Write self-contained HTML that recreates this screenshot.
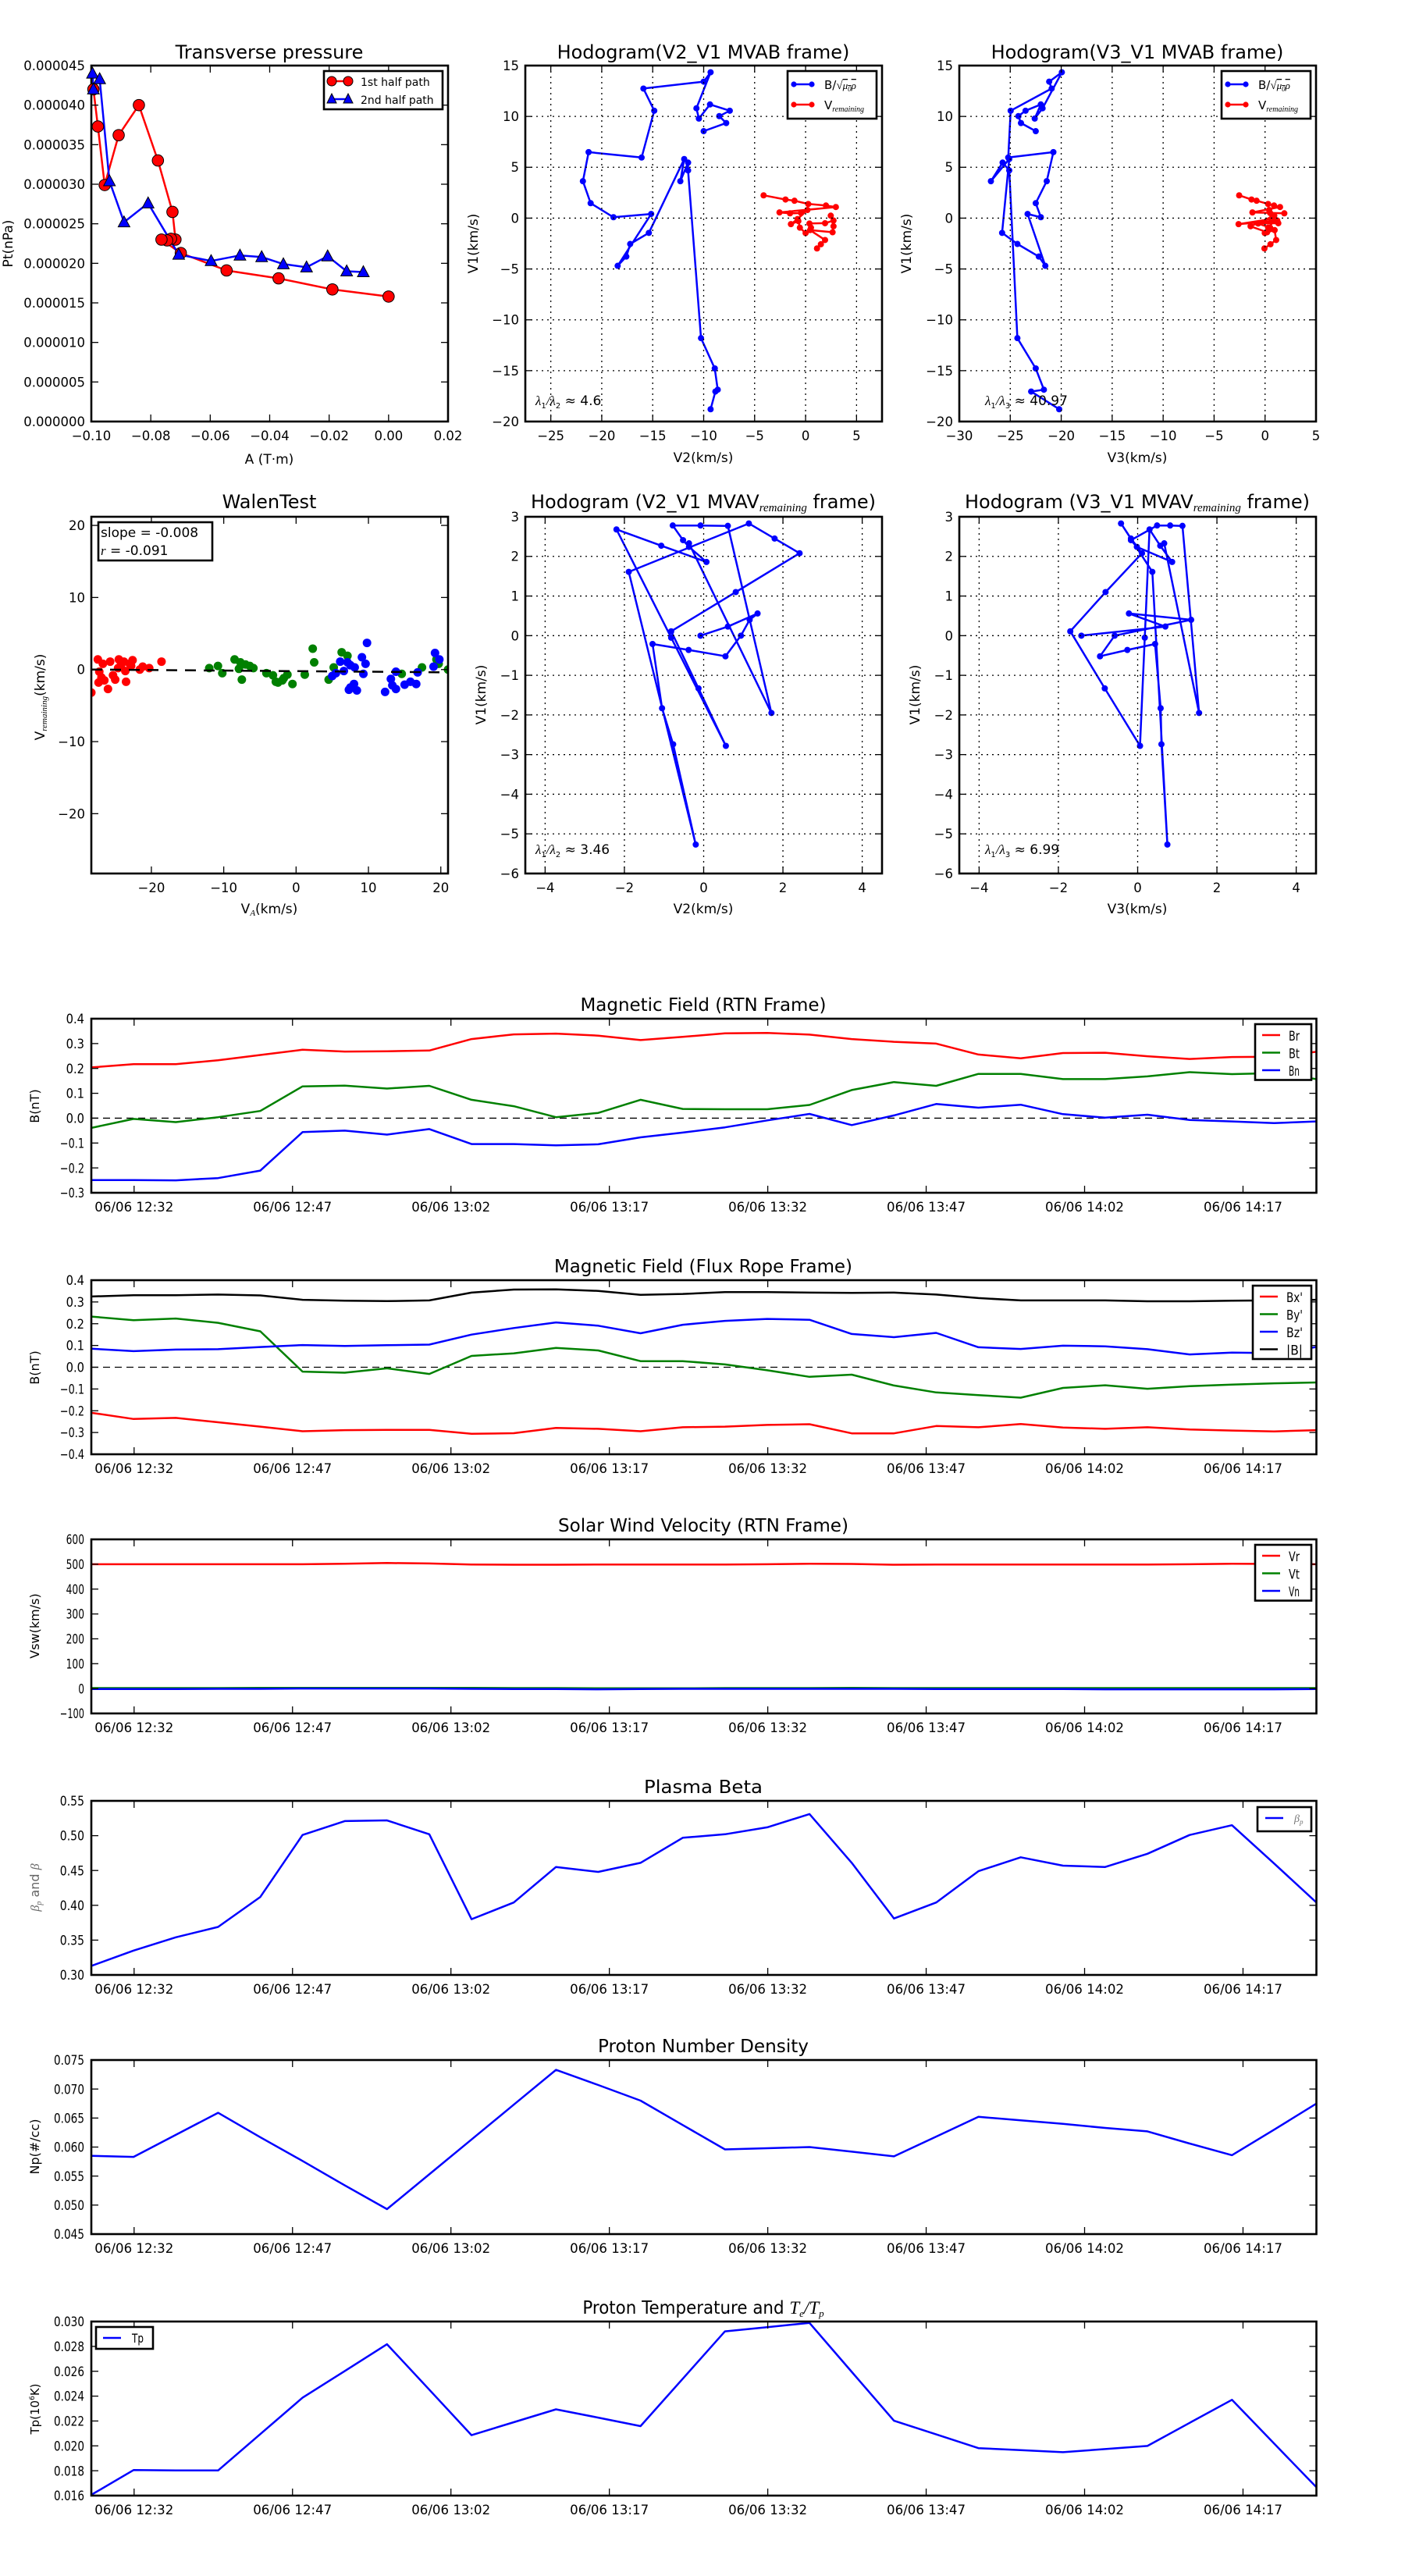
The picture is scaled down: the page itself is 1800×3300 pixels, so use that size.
<!DOCTYPE html>
<html><head><meta charset="utf-8"><title>Flux rope analysis</title>
<style>
html,body{margin:0;padding:0;background:#fff;}
svg{display:block;font-family:"DejaVu Sans","Liberation Sans",sans-serif;}
</style></head>
<body>
<svg id="fig" width="1800" height="3300" viewBox="0 0 1800 3300" xmlns="http://www.w3.org/2000/svg">
<rect width="1800" height="3300" fill="#fff"/>
</svg>
<script>
// ===== DATA =====
// Transverse pressure (Pt in units of 1e-6 nPa)
const ptRedA = [-0.0993,-0.0978,-0.0955,-0.0908,-0.0840,-0.0776,-0.0727,-0.0717,-0.0732,-0.0745,-0.0764,-0.0699,-0.0545,-0.0370,-0.0189,0.0000];
const ptRedP = [42.0,37.3,29.9,36.2,40.0,33.0,26.5,23.0,23.1,22.9,23.0,21.3,19.1,18.1,16.7,15.8];
const ptBlueA = [-0.0993,-0.0996,-0.0972,-0.0939,-0.0890,-0.0809,-0.0706,-0.0597,-0.0500,-0.0427,-0.0354,-0.0276,-0.0205,-0.0141,-0.0085];
const ptBlueP = [42.0,44.0,43.3,30.4,25.2,27.6,21.1,20.3,21.0,20.8,19.9,19.5,20.9,19.0,18.9];
const ptXTicks = [-0.10,-0.08,-0.06,-0.04,-0.02,0.00,0.02];
const ptXLabels = ["\u22120.10","\u22120.08","\u22120.06","\u22120.04","\u22120.02","0.00","0.02"];
const ptYTicks = [0,5,10,15,20,25,30,35,40,45];
const ptYLabels = ["0.000000","0.000005","0.000010","0.000015","0.000020","0.000025","0.000030","0.000035","0.000040","0.000045"];

// MVAB hodograms (B/sqrt(mu0 rho))
const mvabV1 = [8.55,9.35,10.03,10.56,11.18,9.79,10.80,14.34,13.42,12.74,10.56,5.96,6.49,3.63,1.47,0.09,0.41,-4.69,-3.78,-2.54,-1.45,5.81,3.63,5.46,4.69,-11.80,-14.78,-16.87,-17.05,-18.79];
const mvabV2 = [-10.0,-7.79,-8.47,-7.44,-9.38,-10.47,-10.71,-9.32,-10.0,-15.91,-14.85,-16.09,-21.29,-21.85,-21.09,-18.85,-15.15,-18.44,-17.59,-17.21,-15.38,-11.91,-12.29,-11.53,-11.53,-10.26,-8.91,-8.62,-8.85,-9.32];
const mvabV3 = [-22.5,-23.95,-24.2,-23.5,-22.0,-22.6,-21.83,-19.94,-21.18,-20.94,-24.96,-25.2,-20.77,-21.42,-22.5,-22.0,-23.3,-21.56,-22.2,-24.3,-25.8,-25.1,-26.9,-25.75,-25.1,-24.3,-22.5,-21.7,-22.95,-20.2];
const remV1 = [2.24,1.83,1.71,1.39,1.24,1.09,0.56,0.47,0.50,0.80,-0.09,-0.59,-0.29,-0.94,-1.47,-0.94,-0.53,-0.50,-0.24,0.24,-0.80,-1.39,-1.18,-2.15,-2.57,-2.98];
const remV2 = [-4.12,-1.97,-1.09,0.26,2.0,2.97,-2.56,-1.53,-0.44,0.18,-0.79,-1.44,-0.71,-0.56,0.0,0.53,0.38,1.91,2.74,2.47,2.74,2.65,0.44,1.91,1.5,1.12];
const remV3 = [-2.54,-1.33,-0.83,0.3,0.88,1.47,-1.24,1.89,0.5,0.4,0.6,-2.6,0.9,0.3,-0.03,0.5,-0.68,1.3,1.2,0.9,-1.42,0.2,0.94,1.09,0.53,-0.06];

// MVAV remaining hodograms
const mvavV1 = [0.0,0.23,0.56,0.40,0.0,-0.52,-0.36,-0.21,-1.83,-2.74,-5.27,1.61,2.83,2.45,2.08,1.10,0.11,-1.33,-2.78,-0.05,2.68,2.27,1.86,2.24,2.41,2.78,2.78,2.77,-1.95,2.33];
const mvavV2 = [-0.08,0.61,1.36,1.16,0.94,0.55,-0.38,-1.29,-1.05,-0.77,-0.20,-1.89,1.14,1.79,2.42,0.81,-0.82,-0.13,0.56,-0.82,-2.20,-1.07,0.07,-0.37,-0.52,-0.78,-0.08,0.61,1.71,-0.37];
const mvavV3 = [-1.42,0.70,-0.22,1.35,-0.58,-0.95,-0.26,0.44,0.58,0.60,0.75,0.37,-0.42,-0.17,0.11,-0.81,-1.70,-0.83,0.06,0.18,0.30,0.57,0.87,-0.02,-0.17,0.49,0.82,1.13,1.55,0.67];

// Walen test scatter
const walenRedX = [-28.3,-27.4,-26.7,-27.2,-26.5,-27.3,-26.0,-26.9,-25.7,-25.3,-25.0,-24.5,-24.2,-24.6,-23.8,-23.6,-23.5,-22.8,-22.6,-21.6,-21.2,-20.3,-18.6,-23.0];
const walenRedY = [-3.2,1.4,0.8,-0.3,-1.5,-1.8,-2.7,-1.1,1.1,-0.8,-1.4,1.4,0.6,0.2,1.1,-0.2,-1.7,0.5,1.3,0.0,0.4,0.2,1.1,0.8];
const walenGreenX = [-12.0,-10.8,-10.2,-8.5,-7.9,-7.7,-7.5,-7.0,-6.4,-5.9,-4.1,-3.2,-2.8,-2.5,-1.9,-1.7,-1.2,-0.5,1.2,2.3,2.5,4.5,5.2,6.3,7.1,14.6,17.4,19.7,21.0,19.4];
const walenGreenY = [0.2,0.5,-0.5,1.4,0.1,1.0,-1.4,0.7,0.5,0.2,-0.5,-0.8,-1.7,-1.8,-1.5,-1.2,-0.7,-2.0,-0.7,2.9,1.0,-1.4,0.3,2.4,1.9,-0.6,0.3,0.8,0.0,1.4];
const walenBlueX = [5.0,5.5,6.1,6.6,7.1,7.5,7.3,7.5,8.0,8.4,8.1,9.1,9.3,9.6,9.8,12.3,13.1,13.3,13.8,13.8,15.0,15.8,16.6,16.8,19.0,19.2,19.8];
const walenBlueY = [-0.9,-0.5,1.1,-0.2,1.0,0.6,-2.8,-2.5,-2.0,-2.9,0.3,1.7,-0.6,0.8,3.7,-3.1,-1.3,-2.2,-0.3,-2.7,-2.1,-1.7,-2.0,-0.4,0.4,2.3,1.4];
const walenFit = [-0.008,-0.22]; // slope, intercept

// Time series (30 samples, 4 min cadence)
const timeStart = 747.95; // minutes after 00:00 (06/06 12:27:57)
const timeStep = 4.0;
const timeTicks = [752,767,782,797,812,827,842,857];
const timeTickLabels = ["06/06 12:32","06/06 12:47","06/06 13:02","06/06 13:17","06/06 13:32","06/06 13:47","06/06 14:02","06/06 14:17"];
const Br = [0.204,0.217,0.217,0.233,0.254,0.275,0.268,0.269,0.272,0.318,0.337,0.340,0.332,0.314,0.327,0.341,0.343,0.336,0.318,0.307,0.300,0.256,0.241,0.262,0.263,0.249,0.238,0.246,0.247,0.267];
const Bt = [-0.039,-0.003,-0.016,0.004,0.029,0.128,0.131,0.119,0.130,0.074,0.048,0.004,0.021,0.074,0.037,0.036,0.036,0.053,0.113,0.145,0.130,0.178,0.178,0.157,0.157,0.168,0.185,0.177,0.181,0.157];
const Bn = [-0.249,-0.249,-0.250,-0.241,-0.211,-0.056,-0.050,-0.066,-0.044,-0.104,-0.104,-0.109,-0.105,-0.077,-0.058,-0.037,-0.009,0.017,-0.028,0.011,0.057,0.042,0.054,0.016,0.002,0.014,-0.007,-0.013,-0.020,-0.013];
const Bx = [-0.209,-0.238,-0.233,-0.253,-0.273,-0.294,-0.289,-0.288,-0.288,-0.306,-0.303,-0.279,-0.283,-0.294,-0.276,-0.273,-0.265,-0.262,-0.304,-0.304,-0.270,-0.276,-0.261,-0.277,-0.283,-0.276,-0.286,-0.291,-0.295,-0.289];
const By = [0.233,0.216,0.224,0.204,0.165,-0.020,-0.025,-0.005,-0.031,0.052,0.064,0.089,0.077,0.028,0.028,0.013,-0.014,-0.044,-0.034,-0.084,-0.116,-0.128,-0.140,-0.095,-0.083,-0.099,-0.087,-0.080,-0.074,-0.070];
const Bz = [0.085,0.074,0.081,0.083,0.093,0.102,0.098,0.101,0.104,0.150,0.180,0.206,0.191,0.156,0.195,0.213,0.222,0.218,0.153,0.138,0.158,0.092,0.084,0.099,0.096,0.083,0.059,0.067,0.065,0.093];
const Bmag = [0.325,0.331,0.331,0.334,0.330,0.310,0.306,0.304,0.307,0.343,0.357,0.358,0.351,0.333,0.337,0.345,0.345,0.343,0.342,0.343,0.334,0.318,0.307,0.307,0.307,0.303,0.303,0.306,0.307,0.310];
const Vr = [500,500,500,500,500,500,502,505,503,499,498,498,499,499,499,499,500,502,501,498,499,499,499,499,499,499,500,502,501,500];
const Vt = [2,2,2,2,3,3,3,3,3,3,2,2,1,1,1,2,2,2,3,2,2,2,2,2,2,2,2,2,2,2];
const Vn = [-2,-2,-2,-1,-1,0,0,0,0,-1,-2,-2,-3,-2,-1,-1,-1,-1,-1,-1,-2,-2,-2,-2,-3,-3,-3,-3,-3,-2];
const betaP = [0.313,0.335,0.354,0.369,0.412,0.501,0.521,0.522,0.502,0.380,0.404,0.455,0.448,0.461,0.497,0.502,0.512,0.531,0.461,0.381,0.404,0.449,0.469,0.457,0.455,0.474,0.501,0.515,0.460,0.404];
const Np = [0.0585,0.0583,0.0621,0.0659,0.0617,0.0576,0.0534,0.0493,0.0553,0.0613,0.0673,0.0733,0.0707,0.0680,0.0638,0.0596,0.0598,0.0600,0.0592,0.0584,0.0618,0.0652,0.0646,0.0640,0.0633,0.0627,0.0606,0.0586,0.0630,0.0675];
const Tp = [0.01606,0.01805,0.01803,0.01802,0.02095,0.02387,0.02602,0.02817,0.02452,0.02086,0.02190,0.02294,0.02227,0.02159,0.02540,0.02921,0.02955,0.02989,0.02595,0.02202,0.02092,0.01982,0.01966,0.01949,0.01974,0.01999,0.02185,0.02370,0.02018,0.01667];

// ===== DRAW HELPERS =====
const NS = 'http://www.w3.org/2000/svg';
const svg = document.getElementById('fig');
const FONT = '"DejaVu Sans","Liberation Sans",sans-serif';
function mk(tag, attrs, parent) {
  const e = document.createElementNS(NS, tag);
  for (const k in attrs) e.setAttribute(k, attrs[k]);
  (parent || svg).appendChild(e);
  return e;
}
function txt(parent, x, y, s, size, anchor, extra) {
  const a = {x: x, y: y, 'font-size': size, 'text-anchor': anchor || 'start', fill: '#000'};
  if (extra) for (const k in extra) a[k] = extra[k];
  const t = mk('text', a, parent);
  t.textContent = s;
  return t;
}
function makeAxes(o) {
  const g = mk('g', {});
  
  
  const sx = v => o.x + (v - o.xmin) / (o.xmax - o.xmin) * o.w;
  const sy = v => o.y + o.h - (v - o.ymin) / (o.ymax - o.ymin) * o.h;
  const clipId = 'clip-' + o.name;
  const cp = mk('clipPath', {id: clipId}, g);
  mk('rect', {x: o.x, y: o.y, width: o.w, height: o.h}, cp);
  const plot = mk('g', {'clip-path': 'url(#' + clipId + ')'}, g);
  
  
  return {g: g, plot: plot, sx: sx, sy: sy, o: o};
}
function drawFrame(ax, xt, xl, yt, yl, opt) {
  const o = ax.o, g = ax.g;
  const tl = opt.tick || 9;
  const fs = opt.fs || 17;
  // grid
  if (opt.grid) {
    xt.forEach(v => { const X = ax.sx(v); if (X > o.x + 1 && X < o.x + o.w - 1) {
      const l = mk('line', {x1: X, y1: o.y, x2: X, y2: o.y + o.h, stroke: '#000', 'stroke-width': 1.3, 'stroke-dasharray': '2,5'}, g);
      
       } });
    yt.forEach(v => { const Y = ax.sy(v); if (Y > o.y + 1 && Y < o.y + o.h - 1) {
      const l = mk('line', {x1: o.x, y1: Y, x2: o.x + o.w, y2: Y, stroke: '#000', 'stroke-width': 1.3, 'stroke-dasharray': '2,5'}, g);
      
       } });
  }
  xt.forEach((v, i) => {
    const X = ax.sx(v);
    mk('line', {x1: X, y1: o.y + o.h, x2: X, y2: o.y + o.h - tl, stroke: '#000', 'stroke-width': 1.3}, g);
    mk('line', {x1: X, y1: o.y, x2: X, y2: o.y + tl, stroke: '#000', 'stroke-width': 1.3}, g);
    const t = txt(g, X, o.y + o.h + (opt.xlabOff || 24), xl[i], fs, 'middle', opt.xLen ? {textLength: opt.xLen, lengthAdjust: 'spacingAndGlyphs'} : null);
    
    
  });
  yt.forEach((v, i) => {
    const Y = ax.sy(v);
    mk('line', {x1: o.x, y1: Y, x2: o.x + tl, y2: Y, stroke: '#000', 'stroke-width': 1.3}, g);
    mk('line', {x1: o.x + o.w, y1: Y, x2: o.x + o.w - tl, y2: Y, stroke: '#000', 'stroke-width': 1.3}, g);
    const ext = {};
    if (opt.yCond) { ext.textLength = yl[i].length * opt.yCond; ext.lengthAdjust = 'spacingAndGlyphs'; }
    const t = txt(g, o.x - (opt.ylabGap || 8), Y + fs * 0.36, yl[i], fs, 'end', ext);
    
    
  });
  const fr = mk('rect', {x: o.x, y: o.y, width: o.w, height: o.h, fill: 'none', stroke: '#000', 'stroke-width': 2.6}, g);
  
  
}
function polyline(ax, xs, ys, color, w, dash) {
  const pts = xs.map((x, i) => ax.sx(x).toFixed(1) + ',' + ax.sy(ys[i]).toFixed(1)).join(' ');
  const a = {points: pts, fill: 'none', stroke: color, 'stroke-width': w || 2.5, 'stroke-linejoin': 'round'};
  if (dash) a['stroke-dasharray'] = dash;
  return mk('polyline', a, ax.plot);
}
function dots(ax, xs, ys, color, r, name) {
  xs.forEach((x, i) => {
    const c = mk('circle', {cx: ax.sx(x), cy: ax.sy(ys[i]), r: r, fill: color, stroke: 'none'}, ax.plot);
    
    
  });
}
function legendBox(parent, x, y, w, h) {
  const r = mk('rect', {x: x, y: y, width: w, height: h, fill: '#fff', stroke: '#000', 'stroke-width': 2.6}, parent);
  
  
}
function title(s, cx, y, size, extra) {
  const t = txt(svg, cx, y, s, size, 'middle', extra);
  
  
  return t;
}
function axisLabel(s, x, y, size, rot, name) {
  const t = txt(svg, x, y, s, size, 'middle', rot ? {transform: 'rotate(-90 ' + x + ' ' + y + ')'} : null);
  
  
  return t;
}

// ===== PANEL 1: Transverse pressure =====
(function () {
  const ax = makeAxes({name: 'transverse-pressure', x: 117, y: 84, w: 457, h: 456, xmin: -0.10, xmax: 0.02, ymin: 0, ymax: 45});
  drawFrame(ax, ptXTicks, ptXLabels, ptYTicks, ptYLabels, {fs: 16.5, xlabOff: 24});
  polyline(ax, ptRedA, ptRedP, '#f00', 2.5);
  polyline(ax, ptBlueA, ptBlueP, '#00f', 2.5);
  ptRedA.forEach((a, i) => {
    const c = mk('circle', {cx: ax.sx(a), cy: ax.sy(ptRedP[i]), r: 7.3, fill: '#f00', stroke: '#000', 'stroke-width': 1}, ax.g);
    
    
  });
  ptBlueA.forEach((a, i) => {
    const X = ax.sx(a), Y = ax.sy(ptBlueP[i]);
    const p = mk('polygon', {points: (X) + ',' + (Y - 8) + ' ' + (X - 7.5) + ',' + (Y + 6) + ' ' + (X + 7.5) + ',' + (Y + 6), fill: '#00f', stroke: '#000', 'stroke-width': 1}, ax.g);
    
    
  });
  const lg = mk('g', {}, ax.g);
  
  
  legendBox(lg, 415, 91, 152, 49);
  mk('line', {x1: 425, y1: 104, x2: 446, y2: 104, stroke: '#f00', 'stroke-width': 2.5}, lg);
  mk('circle', {cx: 425, cy: 104, r: 6, fill: '#f00', stroke: '#000'}, lg);
  mk('circle', {cx: 446, cy: 104, r: 6, fill: '#f00', stroke: '#000'}, lg);
  const l1 = txt(lg, 462, 110, '1st half path', 14);
  
  mk('line', {x1: 425, y1: 127, x2: 446, y2: 127, stroke: '#00f', 'stroke-width': 2.5}, lg);
  mk('polygon', {points: '425,120 419,132 431,132', fill: '#00f', stroke: '#000'}, lg);
  mk('polygon', {points: '446,120 440,132 452,132', fill: '#00f', stroke: '#000'}, lg);
  const l2 = txt(lg, 462, 133, '2nd half path', 14);
  
  title('Transverse pressure', 345, 75, 24);
  axisLabel('A (T\u00b7m)', 345, 594, 17, false, 'x-axis-title');
  axisLabel('Pt(nPa)', 16, 312, 17, true, 'y-axis-title');
})();

// Hodogram helper
function hodoLegend(parent, x, y, w) {
  const lg = mk('g', {}, parent);
  
  
  legendBox(lg, x, y, w, 61);
  mk('line', {x1: x + 8, y1: y + 17, x2: x + 31, y2: y + 17, stroke: '#00f', 'stroke-width': 2.5}, lg);
  mk('circle', {cx: x + 8, cy: y + 17, r: 3.6, fill: '#00f'}, lg);
  mk('circle', {cx: x + 31, cy: y + 17, r: 3.6, fill: '#00f'}, lg);
  const t1 = mk('text', {x: x + 47, y: y + 23, 'font-size': 15, fill: '#000'}, lg);
  
  t1.innerHTML = 'B/<tspan font-family="Liberation Serif,serif" font-size="15">\u221a</tspan><tspan font-family="Liberation Serif,serif" font-style="italic" font-size="13" text-decoration="overline">\u03bc<tspan font-size="9" dy="3">0</tspan><tspan dy="-3">\u03c1</tspan></tspan>';
  mk('line', {x1: x + 8, y1: y + 43, x2: x + 31, y2: y + 43, stroke: '#f00', 'stroke-width': 2.5}, lg);
  mk('circle', {cx: x + 8, cy: y + 43, r: 3.6, fill: '#f00'}, lg);
  mk('circle', {cx: x + 31, cy: y + 43, r: 3.6, fill: '#f00'}, lg);
  const t2 = mk('text', {x: x + 47, y: y + 49, 'font-size': 15, fill: '#000'}, lg);
  
  t2.innerHTML = 'V<tspan font-family="Liberation Serif,serif" font-style="italic" font-size="10" dy="3">remaining</tspan>';
}
function ratioText(parent, x, y, sub2, val) {
  const t = mk('text', {x: x, y: y, 'font-size': 17, fill: '#000'}, parent);
  
  
  t.innerHTML = '<tspan font-family="Liberation Serif,serif" font-style="italic">\u03bb</tspan><tspan font-size="10" dy="4">1</tspan><tspan dy="-4" font-family="Liberation Serif,serif" font-style="italic">/\u03bb</tspan><tspan font-size="10" dy="4">' + sub2 + '</tspan><tspan dy="-4"> \u2248 ' + val + '</tspan>';
}
const hodoYTicks = [15,10,5,0,-5,-10,-15,-20];
const hodoYLabels = ["15","10","5","0","\u22125","\u221210","\u221215","\u221220"];

// ===== PANEL 2: Hodogram V2_V1 MVAB =====
(function () {
  const ax = makeAxes({name: 'hodogram-v2-v1-mvab', x: 673, y: 84, w: 457, h: 456, xmin: -27.5, xmax: 7.5, ymin: -20, ymax: 15});
  const xt = [-25,-20,-15,-10,-5,0,5];
  drawFrame(ax, xt, ["\u221225","\u221220","\u221215","\u221210","\u22125","0","5"], hodoYTicks, hodoYLabels, {fs: 16.5, grid: true});
  polyline(ax, mvabV2, mvabV1, '#00f', 2.5);
  dots(ax, mvabV2, mvabV1, '#00f', 4, 'b-alfven-point');
  polyline(ax, remV2, remV1, '#f00', 2.5);
  dots(ax, remV2, remV1, '#f00', 4, 'v-remaining-point');
  hodoLegend(ax.g, 1009, 91, 114);
  ratioText(ax.g, 686, 519, '2', '4.6');
  title('Hodogram(V2_V1 MVAB frame)', 901, 75, 24);
  axisLabel('V2(km/s)', 901, 592, 17, false, 'x-axis-title');
  axisLabel('V1(km/s)', 612, 312, 17, true, 'y-axis-title');
})();

// ===== PANEL 3: Hodogram V3_V1 MVAB =====
(function () {
  const ax = makeAxes({name: 'hodogram-v3-v1-mvab', x: 1229, y: 84, w: 457, h: 456, xmin: -30, xmax: 5, ymin: -20, ymax: 15});
  const xt = [-30,-25,-20,-15,-10,-5,0,5];
  drawFrame(ax, xt, ["\u221230","\u221225","\u221220","\u221215","\u221210","\u22125","0","5"], hodoYTicks, hodoYLabels, {fs: 16.5, grid: true});
  polyline(ax, mvabV3, mvabV1, '#00f', 2.5);
  dots(ax, mvabV3, mvabV1, '#00f', 4, 'b-alfven-point');
  polyline(ax, remV3, remV1, '#f00', 2.5);
  dots(ax, remV3, remV1, '#f00', 4, 'v-remaining-point');
  hodoLegend(ax.g, 1565, 91, 114);
  ratioText(ax.g, 1262, 519, '3', '40.97');
  title('Hodogram(V3_V1 MVAB frame)', 1457, 75, 24);
  axisLabel('V3(km/s)', 1457, 592, 17, false, 'x-axis-title');
  axisLabel('V1(km/s)', 1167, 312, 17, true, 'y-axis-title');
})();

// ===== PANEL 4: Walen test =====
(function () {
  const ax = makeAxes({name: 'walen-test', x: 117, y: 662, w: 457, h: 457, xmin: -28.3, xmax: 21, ymin: -28.3, ymax: 21.2});
  drawFrame(ax, [-20,-10,0,10,20], ["\u221220","\u221210","0","10","20"], [20,10,0,-10,-20], ["20","10","0","\u221210","\u221220"], {fs: 16.5});
  dots(ax, walenRedX, walenRedY, '#f00', 5.5, 'walen-point-red');
  dots(ax, walenGreenX, walenGreenY, '#008000', 5.5, 'walen-point-green');
  dots(ax, walenBlueX, walenBlueY, '#00f', 5.5, 'walen-point-blue');
  const fl = polyline(ax, [-28.3, 21], [walenFit[0] * -28.3 + walenFit[1], walenFit[0] * 21 + walenFit[1]], '#000', 2.5, '14,10');
  
  
  const bx = mk('g', {}, ax.g);
  
  
  legendBox(bx, 126, 669, 146, 49);
  txt(bx, 129, 688, 'slope = -0.008', 17);
  const rt = mk('text', {x: 129, y: 711, 'font-size': 17, fill: '#000'}, bx);
  rt.innerHTML = '<tspan font-family="Liberation Serif,serif" font-style="italic">r</tspan> = -0.091';
  title('WalenTest', 345, 651, 24);
  const xl = mk('text', {x: 345, y: 1170, 'font-size': 17, 'text-anchor': 'middle', fill: '#000'});
  
  
  xl.innerHTML = 'V<tspan font-family="Liberation Serif,serif" font-style="italic" font-size="11" dy="3">A</tspan><tspan dy="-3">(km/s)</tspan>';
  const yl = mk('text', {x: 57, y: 893, 'font-size': 17, 'text-anchor': 'middle', fill: '#000', transform: 'rotate(-90 57 893)'});
  
  
  yl.innerHTML = 'V<tspan font-family="Liberation Serif,serif" font-style="italic" font-size="11" dy="3">remaining</tspan><tspan dy="-3">(km/s)</tspan>';
})();

const mvavYT = [3,2,1,0,-1,-2,-3,-4,-5,-6];
const mvavYL = ["3","2","1","0","\u22121","\u22122","\u22123","\u22124","\u22125","\u22126"];
const mvavXT = [-4,-2,0,2,4];
const mvavXL = ["\u22124","\u22122","0","2","4"];
function mvavTitle(s, cx) {
  const t = mk('text', {x: cx, y: 651, 'font-size': 24, 'text-anchor': 'middle', fill: '#000'});
  
  
  t.innerHTML = s + ' MVAV<tspan font-family="Liberation Serif,serif" font-style="italic" font-size="15" dy="4">remaining</tspan><tspan dy="-4"> frame)</tspan>';
}
// ===== PANEL 5: MVAV V2_V1 =====
(function () {
  const ax = makeAxes({name: 'hodogram-v2-v1-mvav', x: 673, y: 662, w: 457, h: 457, xmin: -4.5, xmax: 4.5, ymin: -6, ymax: 3});
  drawFrame(ax, mvavXT, mvavXL, mvavYT, mvavYL, {fs: 16.5, grid: true});
  polyline(ax, mvavV2, mvavV1, '#00f', 2.5);
  dots(ax, mvavV2, mvavV1, '#00f', 4, 'b-alfven-point');
  ratioText(ax.g, 686, 1094, '2', '3.46');
  mvavTitle('Hodogram (V2_V1', 901);
  axisLabel('V2(km/s)', 901, 1170, 17, false, 'x-axis-title');
  axisLabel('V1(km/s)', 622, 890, 17, true, 'y-axis-title');
})();
// ===== PANEL 6: MVAV V3_V1 =====
(function () {
  const ax = makeAxes({name: 'hodogram-v3-v1-mvav', x: 1229, y: 662, w: 457, h: 457, xmin: -4.5, xmax: 4.5, ymin: -6, ymax: 3});
  drawFrame(ax, mvavXT, mvavXL, mvavYT, mvavYL, {fs: 16.5, grid: true});
  polyline(ax, mvavV3, mvavV1, '#00f', 2.5);
  dots(ax, mvavV3, mvavV1, '#00f', 4, 'b-alfven-point');
  ratioText(ax.g, 1262, 1094, '3', '6.99');
  mvavTitle('Hodogram (V3_V1', 1457);
  axisLabel('V3(km/s)', 1457, 1170, 17, false, 'x-axis-title');
  axisLabel('V1(km/s)', 1178, 890, 17, true, 'y-axis-title');
})();

// ===== TIME SERIES =====
const tsX = 117, tsW = 1569.5, tsH = 223;
function timeAxis(i) { return timeStart + i * timeStep; }
function tsPanel(name, top, ymin, ymax, yt, yl, ttl, ylab) {
  const ax = makeAxes({name: name, x: tsX, y: top, w: tsW, h: tsH, xmin: timeStart, xmax: timeStart + 29 * timeStep, ymin: ymin, ymax: ymax});
  drawFrame(ax, timeTicks, timeTickLabels, yt, yl, {fs: 17, xlabOff: 24, xLen: 101, ylabGap: 9, yCond: 7.8});
  return ax;
}
function tsLine(ax, arr, color, name) {
  const xs = arr.map((v, i) => timeAxis(i));
  const l = polyline(ax, xs, arr, color, 2.5);
  
  
}
function tsTitle(s, width, y) {
  const t = txt(svg, 901, y, s, 23, 'middle', {textLength: width, lengthAdjust: 'spacingAndGlyphs'});
  
  
}
function tsYLabel(s, cy, fs) {
  const t = txt(svg, 50, cy, s, fs || 16, 'middle', {transform: 'rotate(-90 50 ' + cy + ')'});
  
  
  return t;
}
function tsLegend(ax, x, y, w, entries) {
  const lg = mk('g', {}, ax.g);
  
  
  legendBox(lg, x, y, w, entries.length * 22.5 + 4);
  entries.forEach((e, i) => {
    const cy = y + 14 + i * 22.5;
    mk('line', {x1: x + 9, y1: cy, x2: x + 32, y2: cy, stroke: e[1], 'stroke-width': 2.5}, lg);
    const t = txt(lg, x + 43, cy + 7, e[0], 17, 'start', {textLength: e[0].length * 7, lengthAdjust: 'spacingAndGlyphs'});
    
  });
}
function zeroLine(ax) {
  const z = mk('line', {x1: tsX, y1: ax.sy(0), x2: tsX + tsW, y2: ax.sy(0), stroke: '#000', 'stroke-width': 1.3, 'stroke-dasharray': '9,6'}, ax.plot);
  
  
}

// RTN magnetic field
(function () {
  const ax = tsPanel('magnetic-field-rtn', 1305, -0.3, 0.4, [0.4,0.3,0.2,0.1,0,-0.1,-0.2,-0.3], ["0.4","0.3","0.2","0.1","0.0","\u22120.1","\u22120.2","\u22120.3"]);
  zeroLine(ax);
  tsLine(ax, Br, '#f00', 'series-br');
  tsLine(ax, Bt, '#008000', 'series-bt');
  tsLine(ax, Bn, '#00f', 'series-bn');
  tsLegend(ax, 1608, 1312, 72, [['Br', '#f00'], ['Bt', '#008000'], ['Bn', '#00f']]);
  tsTitle('Magnetic Field (RTN Frame)', 315, 1295);
  tsYLabel('B(nT)', 1417);
})();
// Flux rope frame
(function () {
  const ax = tsPanel('magnetic-field-flux-rope', 1640, -0.4, 0.4, [0.4,0.3,0.2,0.1,0,-0.1,-0.2,-0.3,-0.4], ["0.4","0.3","0.2","0.1","0.0","\u22120.1","\u22120.2","\u22120.3","\u22120.4"]);
  zeroLine(ax);
  tsLine(ax, Bx, '#f00', 'series-bx');
  tsLine(ax, By, '#008000', 'series-by');
  tsLine(ax, Bz, '#00f', 'series-bz');
  tsLine(ax, Bmag, '#000', 'series-bmag');
  tsLegend(ax, 1605, 1647, 75, [["Bx'", '#f00'], ["By'", '#008000'], ["Bz'", '#00f'], ['|B|', '#000']]);
  tsTitle('Magnetic Field (Flux Rope Frame)', 382, 1630);
  tsYLabel('B(nT)', 1752);
})();
// Solar wind velocity
(function () {
  const ax = tsPanel('solar-wind-velocity', 1972, -100, 600, [600,500,400,300,200,100,0,-100], ["600","500","400","300","200","100","0","\u2212100"]);
  tsLine(ax, Vr, '#f00', 'series-vr');
  tsLine(ax, Vt, '#008000', 'series-vt');
  tsLine(ax, Vn, '#00f', 'series-vn');
  tsLegend(ax, 1608, 1979, 72, [['Vr', '#f00'], ['Vt', '#008000'], ['Vn', '#00f']]);
  tsTitle('Solar Wind Velocity (RTN Frame)', 372, 1962);
  tsYLabel('Vsw(km/s)', 2083);
})();
// Plasma beta
(function () {
  const ax = tsPanel('plasma-beta', 2307, 0.30, 0.55, [0.55,0.50,0.45,0.40,0.35,0.30], ["0.55","0.50","0.45","0.40","0.35","0.30"]);
  tsLine(ax, betaP, '#00f', 'series-beta-p');
  const lg = mk('g', {}, ax.g);
  
  
  legendBox(lg, 1611, 2315, 69, 31);
  mk('line', {x1: 1621, y1: 2329, x2: 1644, y2: 2329, stroke: '#00f', 'stroke-width': 2.5}, lg);
  const lt = mk('text', {x: 1658, y: 2334, 'font-size': 14, fill: '#777', 'font-family': 'Liberation Serif,serif', 'font-style': 'italic'}, lg);
  
  lt.innerHTML = '\u03b2<tspan font-size="9" dy="3">p</tspan>';
  tsTitle('Plasma Beta', 152, 2297);
  const yl = mk('text', {x: 50, y: 2418, 'font-size': 16, 'text-anchor': 'middle', fill: '#666', transform: 'rotate(-90 50 2418)'});
  
  
  yl.innerHTML = '<tspan font-family="Liberation Serif,serif" font-style="italic">\u03b2</tspan><tspan font-family="Liberation Serif,serif" font-style="italic" font-size="10" dy="3">p</tspan><tspan dy="-3"> and </tspan><tspan font-family="Liberation Serif,serif" font-style="italic">\u03b2</tspan>';
})();
// Proton density
(function () {
  const ax = tsPanel('proton-number-density', 2639, 0.045, 0.075, [0.075,0.070,0.065,0.060,0.055,0.050,0.045], ["0.075","0.070","0.065","0.060","0.055","0.050","0.045"]);
  tsLine(ax, Np, '#00f', 'series-np');
  tsTitle('Proton Number Density', 270, 2629);
  tsYLabel('Np(#/cc)', 2750);
})();
// Proton temperature
(function () {
  const ax = tsPanel('proton-temperature', 2974, 0.016, 0.030, [0.030,0.028,0.026,0.024,0.022,0.020,0.018,0.016], ["0.030","0.028","0.026","0.024","0.022","0.020","0.018","0.016"]);
  tsLine(ax, Tp, '#00f', 'series-tp');
  const lg = mk('g', {}, ax.g);
  
  
  legendBox(lg, 123, 2981, 73, 28);
  mk('line', {x1: 132, y1: 2995, x2: 155, y2: 2995, stroke: '#00f', 'stroke-width': 2.5}, lg);
  const lt = txt(lg, 169, 3001, 'Tp', 16, 'start', {textLength: 15, lengthAdjust: 'spacingAndGlyphs'});
  
  const t = mk('text', {x: 901, y: 2964, 'font-size': 23, 'text-anchor': 'middle', fill: '#000'});
  
  
  t.innerHTML = '<tspan textLength="265" lengthAdjust="spacingAndGlyphs">Proton Temperature and </tspan><tspan font-family="Liberation Serif,serif" font-style="italic">T</tspan><tspan font-family="Liberation Serif,serif" font-style="italic" font-size="13" dy="4">e</tspan><tspan dy="-4" font-family="Liberation Serif,serif" font-style="italic">/T</tspan><tspan font-family="Liberation Serif,serif" font-style="italic" font-size="13" dy="4">p</tspan>';
  const yl = mk('text', {x: 50, y: 3086, 'font-size': 15, 'text-anchor': 'middle', fill: '#000', transform: 'rotate(-90 50 3086)'});
  
  
  yl.innerHTML = 'Tp(10<tspan font-size="9" dy="-6">6</tspan><tspan dy="6">K)</tspan>';
})();
</script>
</body></html>
